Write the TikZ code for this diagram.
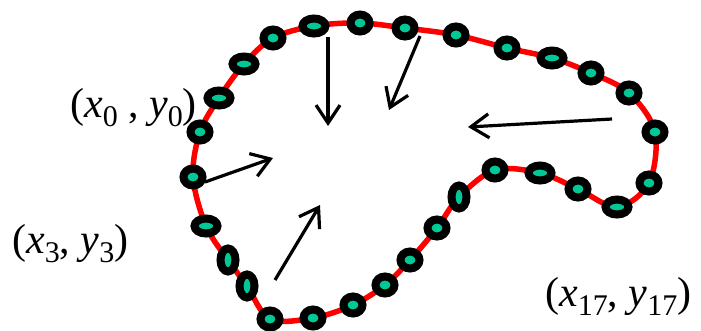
\documentclass[tikz,border=0pt]{standalone}
\usepackage{fontspec}
\setmainfont{Liberation Serif}
\usetikzlibrary{shapes.geometric,arrows.meta}
\definecolor{dotfill}{RGB}{0,200,150}
\newcommand\sbs[1]{\raisebox{-0.22em}{\fontsize{30}{30}\selectfont #1}}
\begin{document}
\begin{tikzpicture}[x=1pt,y=-1pt,
 dot/.style={ellipse,draw=black,line width=8pt,fill=dotfill,minimum width=19pt,minimum height=17pt,inner sep=0pt},
 dotv/.style={dot,minimum width=15pt,minimum height=23pt},
 doth/.style={dot,minimum width=23pt,minimum height=15pt},
 arr/.style={line width=3.2pt,-{Straight Barb[length=18pt,width=24pt]}},
 lab/.style={font=\fontsize{42}{44}\selectfont,inner sep=0pt,anchor=base west}]
\useasboundingbox (0,0) rectangle (701,330);
\draw[red,line width=5.5pt] plot[smooth cycle,tension=0.55] coordinates {
 (270,319) (247,286) (228,260) (206,226) (193,177) (200,132) (219,98) (244,64)
 (273,38) (314,26) (360,23) (405,28) (456,35) (507,48) (552,58) (591,73)
 (629,93) (655,132) (649,183) (617,207) (578,189) (540,173) (495,170) (459,197)
 (437,228) (410,260) (385,285) (353,305) (313,318)};
\node[dot]  (d1)  at (270,319) {};
\node[dotv] (d2)  at (247,286) {};
\node[dotv] (d3)  at (228,260) {};
\node[doth] (d4)  at (206,226) {};
\node[dot]  (d5)  at (193,177) {};
\node[dot]  (d6)  at (200,132) {};
\node[doth] (d7)  at (219,98) {};
\node[doth] (d8)  at (244,64) {};
\node[dot]  (d9)  at (273,38) {};
\node[doth] (d10) at (314,26) {};
\node[dot]  (d11) at (360,23) {};
\node[dot]  (d12) at (405,28) {};
\node[dot]  (d13) at (456,35) {};
\node[dot]  (d14) at (507,48) {};
\node[doth] (d15) at (552,58) {};
\node[dot]  (d16) at (591,73) {};
\node[dot]  (d17) at (629,93) {};
\node[dot]  (d18) at (655,132) {};
\node[dot]  (d19) at (649,183) {};
\node[doth] (d20) at (617,207) {};
\node[dot]  (d21) at (578,189) {};
\node[doth] (d22) at (540,173) {};
\node[dot]  (d23) at (495,170) {};
\node[dotv] (d24) at (459,197) {};
\node[dot]  (d25) at (437,228) {};
\node[dot]  (d26) at (410,260) {};
\node[dot]  (d27) at (385,285) {};
\node[dot]  (d28) at (353,305) {};
\node[dot]  (d29) at (313,318) {};
\coordinate (s1) at (328,37);  \coordinate (e1) at (328,126);
\coordinate (s2) at (420,36);  \coordinate (e2) at (389,110);
\coordinate (s3) at (612,119); \coordinate (e3) at (468,127);
\coordinate (s4) at (205,182); \coordinate (e4) at (273,158);
\coordinate (s5) at (275,280); \coordinate (e5) at (320,205);
\draw[arr] (s1) -- (e1);
\draw[arr] (s2) -- (e2);
\draw[arr] (s3) -- (e3);
\draw[arr] (s4) -- (e4);
\draw[arr] (s5) -- (e5);
\node[lab] (l0) at (70,117) {(\textit{x}\sbs{0} , \textit{y}\sbs{0})};
\node[lab] (l3) at (12,253) {(\textit{x}\sbs{3}, \textit{y}\sbs{3})};
\node[lab] (l17) at (545,306) {(\textit{x}\sbs{17}, \textit{y}\sbs{17})};
\end{tikzpicture}
\end{document}
